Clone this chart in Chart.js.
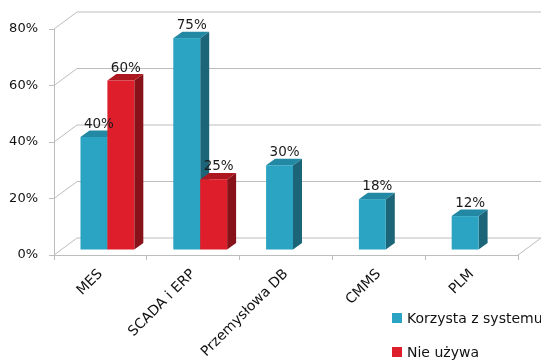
<!DOCTYPE html>
<html>
<head>
<meta charset="utf-8">
<script src="https://cdn.jsdelivr.net/npm/chart.js@4/dist/chart.umd.min.js"></script>
<style>
  html, body { margin: 0; padding: 0; background: #fff; overflow: hidden; }
  #wrap { position: relative; width: 541px; height: 361px; overflow: hidden; }
  #legend { position: absolute; left: 392px; top: 309px; font: 14px "DejaVu Sans", sans-serif; color: #111; }
  .item { position: relative; height: 34px; white-space: nowrap; }
  .box { position: absolute; left: 0; top: 4px; width: 10px; height: 10px; }
  .txt { position: absolute; left: 15px; top: 0; line-height: 18px; }
</style>
</head>
<body>
<div id="wrap">
  <canvas id="chart" width="541" height="361"></canvas>
  <div id="legend"></div>
</div>
<script>
const categories = ['MES', 'SCADA i ERP', 'Przemysłowa DB', 'CMMS', 'PLM'];
const seriesNames = ['Korzysta z systemu', 'Nie używa'];
const usesSystem = [40, 75, 30, 18, 12];
const notUsing = [60, 25, null, null, null];
const yTicks = [0, 20, 40, 60, 80];

// front / top / side shades for each series
const faces = [
  { front: '#2ba3c2', top: '#2388a3', side: '#1c6579' },
  { front: '#de1e2b', top: '#ad1820', side: '#88121a' }
];

const WALL_DX = 23, WALL_DY = 17;   // depth of the back wall
const BAR_SHIFT_X = 7, BAR_SHIFT_Y = 5; // bars sit a bit behind the front edge
const BAR_DX = 9, BAR_DY = 6.5;      // bar thickness
const gridColor = '#bdbdbd';
const font = '"DejaVu Sans", sans-serif';

const bar3d = {
  id: 'bar3d',
  beforeDatasetsDraw(chart) {
    const ctx = chart.ctx;
    const { left, right, bottom } = chart.chartArea;
    const y = chart.scales.y;
    ctx.save();
    ctx.strokeStyle = gridColor;
    ctx.lineWidth = 1;
    ctx.beginPath();
    yTicks.forEach(v => {
      const py = y.getPixelForValue(v);
      ctx.moveTo(left, py);
      ctx.lineTo(left + WALL_DX, py - WALL_DY);
      ctx.lineTo(chart.width, py - WALL_DY);
    });
    ctx.moveTo(right, bottom);
    ctx.lineTo(right + WALL_DX, bottom - WALL_DY);
    ctx.stroke();
    ctx.restore();
  },
  beforeDatasetDraw() {
    return false;
  },
  afterDatasetsDraw(chart) {
    const ctx = chart.ctx;
    ctx.save();
    ctx.translate(BAR_SHIFT_X, -BAR_SHIFT_Y);
    chart.data.datasets.forEach((ds, i) => {
      const meta = chart.getDatasetMeta(i);
      const c = faces[i];
      meta.data.forEach((bar, j) => {
        if (ds.data[j] == null) return;
        const p = bar.getProps(['x', 'y', 'base', 'width'], true);
        const x1 = p.x - p.width / 2, x2 = p.x + p.width / 2;
        // side
        ctx.fillStyle = c.side;
        ctx.beginPath();
        ctx.moveTo(x2, p.y);
        ctx.lineTo(x2 + BAR_DX, p.y - BAR_DY);
        ctx.lineTo(x2 + BAR_DX, p.base - BAR_DY);
        ctx.lineTo(x2, p.base);
        ctx.closePath();
        ctx.fill();
        // top
        ctx.fillStyle = c.top;
        ctx.beginPath();
        ctx.moveTo(x1, p.y);
        ctx.lineTo(x2, p.y);
        ctx.lineTo(x2 + BAR_DX, p.y - BAR_DY);
        ctx.lineTo(x1 + BAR_DX, p.y - BAR_DY);
        ctx.closePath();
        ctx.fill();
        // front
        ctx.fillStyle = c.front;
        ctx.fillRect(x1, p.y, p.width, p.base - p.y);
      });
    });
    // value labels
    ctx.fillStyle = '#1a1a1a';
    ctx.font = '13.5px ' + font;
    ctx.textAlign = 'center';
    ctx.textBaseline = 'alphabetic';
    chart.data.datasets.forEach((ds, i) => {
      const meta = chart.getDatasetMeta(i);
      meta.data.forEach((bar, j) => {
        if (ds.data[j] == null) return;
        ctx.fillText(ds.data[j] + '%', bar.x + 5, bar.y - 9);
      });
    });
    ctx.restore();
  }
};

const ctx = document.getElementById('chart').getContext('2d');
const chart = new Chart(ctx, {
  type: 'bar',
  data: {
    labels: categories,
    datasets: [
      { label: seriesNames[0], data: usesSystem, backgroundColor: faces[0].front },
      { label: seriesNames[1], data: notUsing, backgroundColor: faces[1].front }
    ]
  },
  options: {
    responsive: false,
    animation: false,
    layout: { padding: { left: 0, right: 23, top: 29, bottom: 0 } },
    datasets: { bar: { barPercentage: 1, categoryPercentage: 0.58 } },
    plugins: { legend: { display: false }, tooltip: { enabled: false } },
    scales: {
      x: {
        grid: { drawOnChartArea: false, tickLength: 5, color: gridColor },
        border: { color: gridColor },
        ticks: { autoSkip: false, minRotation: 45, maxRotation: 45, padding: 6, color: '#111', font: { family: font, size: 14 } },
        afterFit: scale => { scale.height = 106; }
      },
      y: {
        min: 0,
        max: 80,
        grid: { drawOnChartArea: false, tickLength: 5, color: gridColor },
        border: { color: gridColor },
        ticks: { stepSize: 20, padding: 11, color: '#111', font: { family: font, size: 13 }, callback: v => v + '%' },
        afterFit: scale => { scale.width = 54; }
      }
    }
  },
  plugins: [bar3d]
});

const legend = document.getElementById('legend');
seriesNames.forEach((name, i) => {
  const item = document.createElement('div');
  item.className = 'item';
  item.innerHTML = '<span class="box" style="background:' + faces[i].front + '"></span><span class="txt"></span>';
  item.querySelector('.txt').textContent = name;
  legend.appendChild(item);
});
</script>
</body>
</html>
